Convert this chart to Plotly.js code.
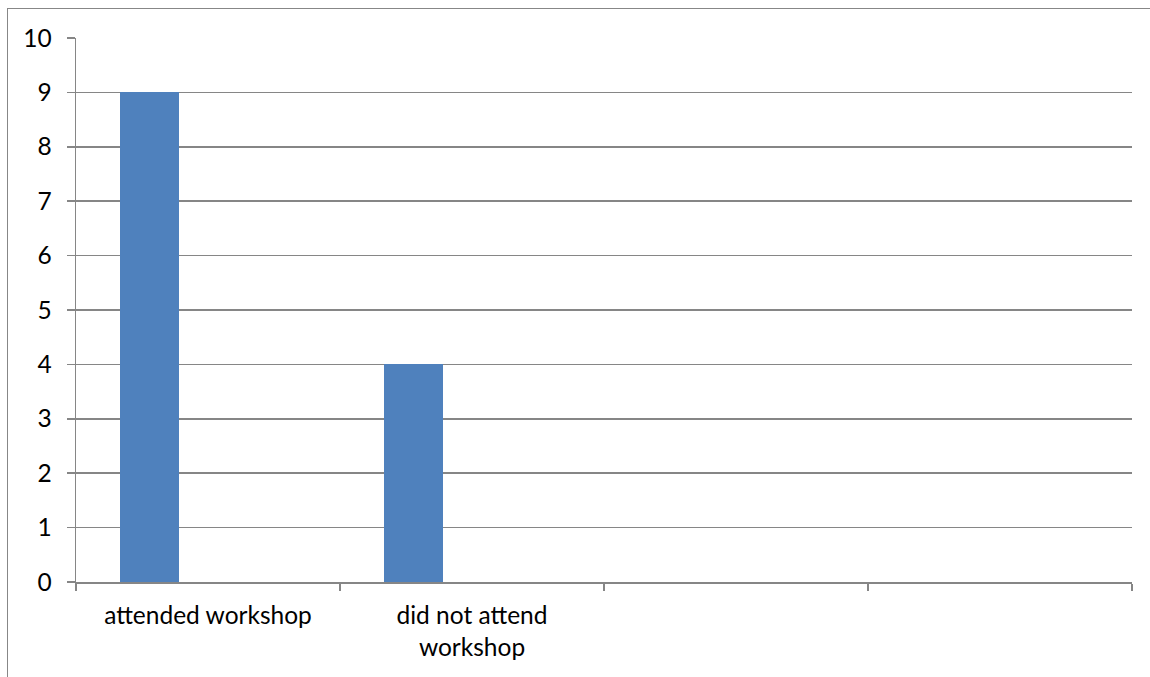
<!DOCTYPE html>
<html>
<head>
<meta charset="utf-8">
<script src="https://cdn.plot.ly/plotly-3.0.1.min.js"></script>
<style>
  html, body { margin: 0; padding: 0; background: #fff; }
  #frame { position: absolute; left: 7px; top: 8px; width: 1160px; height: 690px;
           border-left: 1px solid #878787; border-top: 1px solid #878787; }
  #chart { position: absolute; left: 0; top: 0; width: 1150px; height: 677px; }
</style>
</head>
<body>
<div id="frame"></div>
<div id="chart"></div>
<script>
// Workshop attendance counts
const categories = ["attended workshop", "did not attend<br>workshop"];
const counts = [9, 4];
const categorySlots = 4;           // the axis reserves four category slots
const yTicks = [0, 1, 2, 3, 4, 5, 6, 7, 8, 9, 10];

const positions = categories.map((_, i) => i);

const trace = {
  type: "bar",
  x: positions,
  y: counts,
  width: 0.222,
  offset: -0.333,
  marker: { color: "#4F81BD", line: { width: 0 } },
  hoverinfo: "skip"
};

const gray = "#868686";
const font = { family: "Lato, 'Open Sans', sans-serif", size: 24.5, color: "#000" };

const layout = {
  width: 1150,
  height: 677,
  margin: { l: 76, r: 18, t: 37.5, b: 94.5, pad: 0 },
  paper_bgcolor: "rgba(0,0,0,0)",
  plot_bgcolor: "rgba(0,0,0,0)",
  showlegend: false,
  font: font,
  xaxis: {
    type: "linear",
    range: [-0.5, categorySlots - 0.5],
    tickvals: positions,
    ticktext: categories,
    ticks: "",
    showgrid: false,
    zeroline: false,
    showline: true,
    linecolor: gray,
    linewidth: 1.5,
    tickfont: font,
    ticklabelstandoff: 11,
    minor: { tick0: -0.5, dtick: 1, ticks: "outside", ticklen: 7, tickcolor: gray, tickwidth: 1.5, showgrid: false },
    fixedrange: true
  },
  yaxis: {
    range: [0, 10],
    tickvals: yTicks,
    ticks: "outside",
    ticklen: 8,
    tickcolor: gray,
    tickwidth: 1.5,
    showgrid: true,
    gridcolor: gray,
    gridwidth: 1.5,
    zeroline: false,
    showline: true,
    linecolor: gray,
    linewidth: 1.5,
    tickfont: font,
    ticklabelstandoff: 10,
    fixedrange: true
  },
  bargap: 0
};

Plotly.newPlot("chart", [trace], layout, { displayModeBar: false, staticPlot: true });
</script>
</body>
</html>
